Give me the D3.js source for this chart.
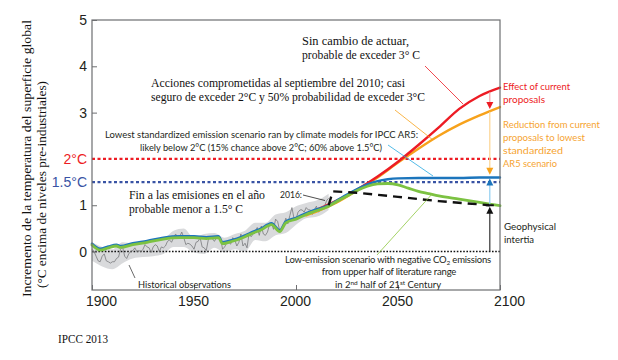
<!DOCTYPE html>
<html>
<head>
<meta charset="utf-8">
<script src="https://cdn.jsdelivr.net/npm/d3@7"></script>
<style>
  body { margin: 0; background: #fff; }
  svg { display: block; }
</style>
</head>
<body>
<svg id="chart" width="618" height="360"></svg>
<script>
// ---- data ----
var obsYears = [1900,1901,1902,1903,1904,1905,1906,1907,1908,1909,1910,1911,1912,1913,1914,1915,1916,1917,1918,1919,
  1920,1921,1922,1923,1924,1925,1926,1927,1928,1929,1930,1931,1932,1933,1934,1935,1936,1937,1938,1939,
  1940,1941,1942,1943,1944,1945,1946,1947,1948,1949,1950,1951,1952,1953,1954,1955,1956,1957,1958,1959,
  1960,1961,1962,1963,1964,1965,1966,1967,1968,1969,1970,1971,1972,1973,1974,1975,1976,1977,1978,1979,
  1980,1981,1982,1983,1984,1985,1986,1987,1988,1989,1990,1991,1992,1993,1994,1995,1996,1997,1998,1999,
  2000,2001,2002,2003,2004,2005,2006,2007,2008,2009,2010,2011,2012,2013,2014,2015,2016];
var obsValues = [0.05,0.0,-0.1,-0.2,-0.22,-0.1,-0.05,-0.2,-0.22,-0.25,-0.22,-0.22,-0.15,-0.12,0.05,0.1,-0.1,-0.15,-0.05,0.0,
  0.02,0.08,0.0,0.02,0.0,0.05,0.15,0.1,0.08,-0.02,0.1,0.15,0.12,0.0,0.1,0.08,0.12,0.22,0.25,0.2,
  0.3,0.38,0.3,0.32,0.42,0.3,0.15,0.18,0.16,0.12,0.05,0.2,0.22,0.3,0.1,0.08,0.02,0.25,0.32,0.28,
  0.22,0.3,0.3,0.3,0.05,0.1,0.18,0.2,0.16,0.3,0.25,0.12,0.2,0.38,0.12,0.18,0.08,0.4,0.32,0.38,
  0.45,0.52,0.35,0.55,0.38,0.35,0.42,0.58,0.6,0.48,0.7,0.65,0.45,0.5,0.58,0.72,0.6,0.78,0.95,0.72,
  0.7,0.85,0.9,0.9,0.85,0.95,0.9,0.9,0.8,0.9,0.98,0.85,0.9,0.92,0.98,1.1,1.15];

var bandYears = [1900,1905,1910,1915,1920,1925,1930,1935,1940,1945,1950,1955,1960,1965,1970,1975,1980,1985,1990,1995,2000,2005,2010,2016];
var bandLow   = [-0.2,-0.32,-0.38,-0.25,-0.15,-0.12,-0.1,-0.05,0.1,0.1,-0.02,-0.05,0.08,-0.02,0.05,0.0,0.25,0.22,0.35,0.4,0.58,0.72,0.75,0.9];
var bandHigh  = [0.2,0.1,0.05,0.2,0.18,0.22,0.25,0.28,0.45,0.5,0.3,0.38,0.4,0.3,0.38,0.45,0.62,0.62,0.8,0.85,0.98,1.05,1.1,1.25];

var greenYears  = [1900,1904,1908,1912,1914,1920,1927,1935,1943,1950,1956,1962,1964,1967,1971,1975,1979,1983,1986,1988,1992,1995,2000,2005,2010,2016,2020,2025,2030,2035,2040,2045,2050,2055,2060,2065,2070,2080,2090,2100];
var greenValues = [0.14,0.03,0.08,0.12,0.09,0.15,0.2,0.27,0.3,0.3,0.28,0.3,0.17,0.2,0.25,0.32,0.4,0.47,0.55,0.58,0.43,0.62,0.7,0.8,0.88,0.98,1.08,1.2,1.32,1.41,1.46,1.47,1.44,1.37,1.3,1.25,1.2,1.13,1.06,0.99];

var blueYears  = [1900,1904,1908,1912,1914,1920,1927,1935,1943,1950,1956,1962,1964,1967,1971,1975,1979,1983,1986,1988,1992,1995,2000,2005,2010,2016,2020,2025,2030,2035,2040,2045,2050,2060,2070,2080,2090,2100];
var blueValues = [0.17,0.06,0.11,0.15,0.12,0.18,0.23,0.3,0.33,0.33,0.31,0.33,0.2,0.23,0.28,0.35,0.43,0.5,0.58,0.61,0.46,0.65,0.73,0.83,0.91,1.0,1.1,1.23,1.35,1.45,1.52,1.56,1.58,1.59,1.59,1.59,1.6,1.6];

var orangeYears  = [2005,2010,2020,2030,2040,2050,2060,2070,2080,2090,2100];
var orangeValues = [0.78,0.86,1.06,1.32,1.6,1.92,2.22,2.5,2.74,2.94,3.12];

var redYears  = [2010,2020,2030,2040,2050,2060,2070,2080,2090,2100];
var redValues = [0.9,1.1,1.34,1.62,1.94,2.3,2.68,3.08,3.36,3.54];

var commitYears  = [2016,2018,2030,2050,2070,2095];
var commitValues = [1.0,1.3,1.27,1.18,1.09,1.0];

var xTicks = [1900,1950,2000,2050,2100];
var yTicks = [0,1,3,4,5];
var refLevels = [2, 1.5];
var refLabels = ["2°C", "1.5°C"];

// ---- setup ----
var svg = d3.select("#chart");
var x = d3.scaleLinear().domain([1900, 2100]).range([92, 500]);
var y = d3.scaleLinear().domain([-0.83, 5]).range([290, 20]);

var SANS = "'Liberation Sans', Arial, sans-serif";
var HUM = "Lato, 'Open Sans', sans-serif";
var SERIF = "'Liberation Serif', 'Times New Roman', serif";

function zip(xs, ys) { return xs.map(function(d, i) { return [d, ys[i]]; }); }
var line = d3.line().x(function(d){ return x(d[0]); }).y(function(d){ return y(d[1]); });
var smooth = d3.line().curve(d3.curveMonotoneX).x(function(d){ return x(d[0]); }).y(function(d){ return y(d[1]); });

// text helper, w = target width of the line
function txt(s, px, py, size, font, color, w, anchor) {
  var t = svg.append("text").attr("x", px).attr("y", py)
    .attr("font-size", size).attr("font-family", font).attr("fill", color)
    .attr("text-anchor", anchor || "start").text(s);
  if (w) t.attr("textLength", w).attr("lengthAdjust", "spacingAndGlyphs");
  return t;
}

// band + observations
var area = d3.area().curve(d3.curveMonotoneX)
  .x(function(d){ return x(d[0]); })
  .y0(function(d){ return y(d[1]); })
  .y1(function(d){ return y(d[2]); });
svg.append("path")
  .datum(bandYears.map(function(d, i){ return [d, bandLow[i], bandHigh[i]]; }))
  .attr("d", area).attr("fill", "#d9dadc");

// zero line
svg.append("line").attr("x1", x(1900)).attr("x2", x(2100)).attr("y1", y(0)).attr("y2", y(0))
  .attr("stroke", "#111").attr("stroke-width", 1.6).attr("stroke-dasharray", "1.6,1.6");

svg.append("path").datum(zip(obsYears, obsValues)).attr("d", line)
  .attr("fill", "none").attr("stroke", "#77787b").attr("stroke-width", 0.8);

// reference levels
var refColors = ["#ed1c24", "#3953a4"];
refLevels.forEach(function(v, i) {
  svg.append("line").attr("x1", x(1900)).attr("x2", x(2100)).attr("y1", y(v)).attr("y2", y(v))
    .attr("stroke", refColors[i]).attr("stroke-width", 2.2).attr("stroke-dasharray", "3,2.5");
  txt(refLabels[i], 87, y(v) + 5, 14, SANS, refColors[i], null, "end");
});

// scenario lines
function drawLine(xs, vs, color, w) {
  svg.append("path").datum(zip(xs, vs)).attr("d", smooth)
    .attr("fill", "none").attr("stroke", color).attr("stroke-width", w)
    .attr("stroke-linejoin", "round").attr("stroke-linecap", "round");
}
drawLine(orangeYears, orangeValues, "#f7a21b", 2.4);
drawLine(redYears, redValues, "#ed1c24", 2.4);
drawLine(blueYears, blueValues, "#1c75bc", 2.4);
drawLine(greenYears, greenValues, "#7cc242", 2.8);

svg.append("path").datum(zip(commitYears, commitValues)).attr("d", line)
  .attr("fill", "none").attr("stroke", "#111").attr("stroke-width", 2.4)
  .attr("stroke-dasharray", "9,6");

// frame
svg.append("rect").attr("x", x(1900)).attr("y", y(5)).attr("width", x(2100) - x(1900)).attr("height", y(-0.83) - y(5))
  .attr("fill", "none").attr("stroke", "#6d6e71").attr("stroke-width", 1.2);

// axes
var yAxis = svg.append("g").attr("transform", "translate(" + x(1900) + ",0)")
  .call(d3.axisLeft(y).tickValues(yTicks).tickFormat(d3.format("d")).tickSize(-5).tickPadding(5));
var xAxis = svg.append("g").attr("transform", "translate(0," + y(-0.83) + ")")
  .call(d3.axisBottom(x).tickValues(xTicks).tickFormat(d3.format("d")).tickSize(-5).tickPadding(6));
[yAxis, xAxis].forEach(function(a) {
  a.select(".domain").remove();
  a.selectAll(".tick line").attr("stroke", "#6d6e71");
  a.selectAll("text").attr("font-size", 14).attr("font-family", SANS).attr("fill", "#231f20");
});
xAxis.selectAll(".tick text").attr("dx", function(d){ return (d === 1900 || d === 2100) ? 9 : -1; });

// arrows near 2095
function arrow(year, from, to, lineColor, headColor) {
  var px = x(year), y0 = y(from), y1 = y(to), dir = y1 > y0 ? 1 : -1;
  svg.append("line").attr("x1", px).attr("x2", px).attr("y1", y0).attr("y2", y1 - dir * 6)
    .attr("stroke", lineColor).attr("stroke-width", 1.2);
  svg.append("path").attr("d", "M" + (px - 3.5) + "," + (y1 - dir * 7) + "L" + (px + 3.5) + "," + (y1 - dir * 7) + "L" + px + "," + y1 + "Z")
    .attr("fill", headColor);
}
arrow(2095, 3.44, 3.08, "#f4a3a8", "#ed1c24");
arrow(2095, 3.02, 1.66, "#fcd491", "#f7a21b");
arrow(2095, 1.0, 1.58, "#8fcdf0", "#1c75bc");
arrow(2095, 0, 0.97, "#333", "#111");
svg.append("line").attr("x1", x(2095) - 4).attr("x2", x(2095) + 4).attr("y1", y(1.0)).attr("y2", y(1.0))
  .attr("stroke", "#111").attr("stroke-width", 2);

// pointer lines
function pointer(x1, y1, x2, y2, color) {
  svg.append("line").attr("x1", x1).attr("y1", y1).attr("x2", x2).attr("y2", y2)
    .attr("stroke", color).attr("stroke-width", 0.8);
}
pointer(425, 66, 463, 104, "#ed1c24");
pointer(395, 110, 433, 140, "#f7a21b");
pointer(388, 145, 433, 176, "#27aae1");
pointer(377, 255, 433, 193, "#8dc63f");
pointer(129, 265, 135, 278, "#444");
pointer(303, 195, 325, 200.5, "#222");

// y title
svg.append("text").attr("transform", "translate(31,297) rotate(-90)")
  .attr("font-size", 13.5).attr("font-family", SERIF).attr("fill", "#111")
  .attr("textLength", 277).attr("lengthAdjust", "spacingAndGlyphs")
  .text("Incremento de la temperatura del superficie global");
svg.append("text").attr("transform", "translate(46,288) rotate(-90)")
  .attr("font-size", 13.5).attr("font-family", SERIF).attr("fill", "#111")
  .attr("textLength", 207).attr("lengthAdjust", "spacingAndGlyphs")
  .text("(°C encima de niveles pre-industriales)");

// serif annotations
txt("Sin cambio de actuar,", 302, 45, 13, SERIF, "#111", 107);
txt("probable de exceder 3° C", 302, 59, 13, SERIF, "#111", 118);
txt("Acciones comprometidas al septiembre del 2010; casi", 151, 87, 12.5, SERIF, "#111", 254);
txt("seguro de exceder 2°C y 50% probabilidad de exceder 3°C", 151, 101, 12.5, SERIF, "#111", 274);
txt("Fin a las emisiones en el año", 129, 199, 13, SERIF, "#111", 136);
txt("probable menor a 1.5° C", 129, 213, 13, SERIF, "#111", 114);
txt("IPCC 2013", 58, 343, 12, SERIF, "#111", 50);

// sans annotations
txt("Lowest standardized emission scenario ran by climate models for IPCC AR5:", 105, 138, 10, HUM, "#231f20", 313);
txt("likely below 2°C (15% chance above 2°C; 60% above 1.5°C)", 140, 151, 10, HUM, "#231f20", 242);
txt("2016:", 280, 198, 10, HUM, "#231f20", 22);
txt("Historical observations", 138, 288, 10, HUM, "#231f20", 93);
txt("Effect of current", 503, 90, 10, HUM, "#ed1c24", 67);
txt("proposals", 503, 103, 10, HUM, "#ed1c24", 42);
txt("Reduction from current", 503, 128, 10, HUM, "#f6a431", 97);
txt("proposals to lowest", 503, 141, 10, HUM, "#f6a431", 82);
txt("standardized", 503, 154, 10, HUM, "#f6a431", 60);
txt("AR5 scenario", 503, 167, 10, HUM, "#f6a431", 54);
txt("Geophysical", 504, 230, 10, HUM, "#231f20", 52);
txt("intertia", 504, 243, 10, HUM, "#231f20", 30);

var l1 = txt("Low-emission scenario with negative CO", 388, 262.5, 9.5, HUM, "#231f20", null, "middle")
  .attr("letter-spacing", -0.2);
l1.append("tspan").attr("font-size", 6.5).attr("dy", 2).text("2");
l1.append("tspan").attr("dy", -2).text(" emissions");
txt("from upper half of literature range", 389, 275, 9.5, HUM, "#231f20", null, "middle")
  .attr("letter-spacing", -0.2);
var l3 = txt("in 2", 388, 288, 9.5, HUM, "#231f20", null, "middle");
l3.append("tspan").attr("font-size", 6.5).attr("dy", -3).text("nd");
l3.append("tspan").attr("dy", 3).text(" half of 21");
l3.append("tspan").attr("font-size", 6.5).attr("dy", -3).text("st");
l3.append("tspan").attr("dy", 3).text(" Century");
</script>
</body>
</html>
